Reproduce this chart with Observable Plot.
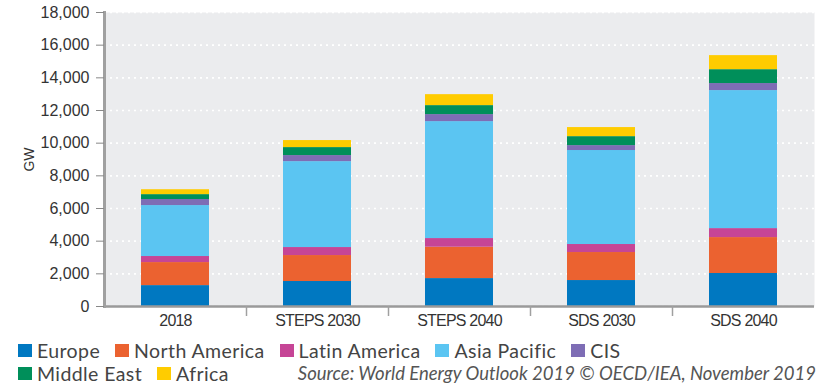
<!DOCTYPE html>
<html>
<head>
<meta charset="utf-8">
<script src="https://cdn.jsdelivr.net/npm/d3@7"></script>
<script src="https://cdn.jsdelivr.net/npm/@observablehq/plot@0.6"></script>
<style>
  body { margin: 0; background: #fff; width: 832px; height: 385px; overflow: hidden; }
  #chart svg { display: block; }
  .legend { font-family: Lato, sans-serif; color: #444; font-size: 19.5px; line-height: 23px; position: relative; padding-top: 4px; letter-spacing: 0.4px; }
  .row { display: flex; align-items: center; height: 23px; padding-left: 18px; }
  .item { display: flex; align-items: center; margin-right: 15px; }
  .sw { width: 14px; height: 13px; margin-right: 5px; }
  .src { position: absolute; right: 16px; font-style: italic; font-size: 18.5px; line-height: 23px; color: #555; letter-spacing: 0; }
</style>
</head>
<body>
<div id="chart"></div>
<div class="legend" id="legend"></div>
<script>
const categories = ["2018", "STEPS 2030", "STEPS 2040", "SDS 2030", "SDS 2040"];
const regions = ["Europe", "North America", "Latin America", "Asia Pacific", "CIS", "Middle East", "Africa"];
const colors = ["#0078C1", "#EB6230", "#C64596", "#5BC5F2", "#7E6DB5", "#008F5A", "#FFCC00"];
// GW by region, per scenario (same order as categories)
const europe       = [1280, 1530, 1710, 1590, 2020];
const northAmerica = [1410, 1590, 1920, 1715, 2200];
const latinAmerica = [370, 490, 530, 490, 550];
const asiaPacific  = [3120, 5260, 7160, 5755, 8450];
const cis          = [370, 370, 430, 300, 430];
const middleEast   = [300, 490, 550, 550, 850];
const africa       = [300, 430, 670, 555, 860];
const yTicks = [0, 2000, 4000, 6000, 8000, 10000, 12000, 14000, 16000, 18000];

const series = [europe, northAmerica, latinAmerica, asiaPacific, cis, middleEast, africa];
const data = [];
regions.forEach((r, i) => categories.forEach((c, j) => data.push({category: c, region: r, value: series[i][j]})));

const font = '"Liberation Sans", Arial, sans-serif';

const chart = Plot.plot({
  width: 832,
  height: 335,
  marginLeft: 104,
  marginRight: 18,
  marginTop: 12,
  marginBottom: 29,
  style: {fontFamily: font, fontSize: "16px", color: "#333", background: "#fff"},
  x: {domain: categories, paddingInner: 0.52, paddingOuter: 0.26},
  y: {domain: [0, 18000]},
  color: {domain: regions, range: colors},
  marks: [
    Plot.frame({fill: "#EBECEE", stroke: null}),
    Plot.gridY(yTicks, {stroke: "#fff", strokeOpacity: 1, strokeWidth: 1.6, strokeDasharray: "2,4"}),
    Plot.barY(data, {x: "category", y: "value", fill: "region", order: regions}),
    Plot.ruleY([0], {stroke: "#9a9a9a", strokeWidth: 2.5}),
    Plot.frame({anchor: "left", stroke: "#a0a0a0", strokeWidth: 3}),
    Plot.ruleX(categories.slice(0, -1), {x: d => d, y1: 0, y2: 0, insetBottom: -10, dx: 71, stroke: "#a0a0a0", strokeWidth: 1.5}),
    Plot.axisY(yTicks, {tickSize: 8, tickPadding: 7, tickFormat: d3.format(","), stroke: "#888", fill: "#333", fontSize: 16, label: "GW", labelAnchor: "center", labelArrow: "none", labelOffset: 80}),
    Plot.axisX({tickSize: 0, tickPadding: 8, fill: "#333", fontSize: 16, label: null})
  ]
});
document.getElementById("chart").appendChild(chart);

chart.querySelectorAll("g[aria-label='x-axis tick label'] text").forEach(t => t.setAttribute("letter-spacing", "-0.8"));
chart.querySelectorAll("g[aria-label='y-axis label'] text").forEach(t => t.setAttribute("font-size", "14"));

const legend = document.getElementById("legend");
const rows = [[0, 1, 2, 3, 4], [5, 6]];
rows.forEach((idxs, ri) => {
  const row = document.createElement("div");
  row.className = "row";
  idxs.forEach(i => {
    const it = document.createElement("div");
    it.className = "item";
    it.innerHTML = `<span class="sw" style="background:${colors[i]}"></span><span>${regions[i]}</span>`;
    row.appendChild(it);
  });
  if (ri === 1) {
    const s = document.createElement("span");
    s.className = "src";
    s.textContent = "Source: World Energy Outlook 2019 © OECD/IEA, November 2019";
    row.appendChild(s);
  }
  legend.appendChild(row);
});
</script>
</body>
</html>
